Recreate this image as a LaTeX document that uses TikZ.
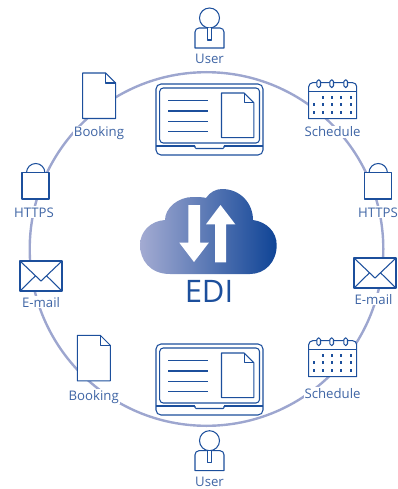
\documentclass[tikz,border=0pt]{standalone}
\usepackage{fontspec}
\setmainfont{Open Sans}
\usetikzlibrary{positioning}
\definecolor{iconblue}{HTML}{1C4F9C}
\definecolor{textblue}{HTML}{3F65A5}
\definecolor{ringblue}{HTML}{9DA6CF}
\definecolor{cloudleft}{HTML}{A3ABD2}
\definecolor{cloudright}{HTML}{0F4496}
\tikzset{
    ln/.style={draw=iconblue,line width=1.05pt,line join=round},
    lbl/.style={text=textblue,font=\fontsize{13.2}{15}\selectfont,fill=white,inner sep=1pt,anchor=base},
    usericon/.pic={
        \draw [ln,fill=white] (0,10) [rounded corners=4pt] -- (0,0) -- (29,0) [sharp corners] -- (29,20) -- (0,20) -- cycle;
        \draw [ln,fill=white] (14.5,-10) circle (10);
        \draw [ln,fill=white] (12.7,0) -- (12.7,12) -- (16.7,12) -- (16.7,0);
    },
    docicon/.pic={
        \draw [ln,fill=white] (0,0) -- (23,0) -- (33,10) -- (33,45.5) -- (0,45.5) -- cycle;
        \draw [ln] (23,0) -- (23,10) -- (33,10);
    },
    lockicon/.pic={
        \draw [ln,fill=white] (4.5,0) arc (180:360:9.2);
        \draw [ln,fill=white] (0,0) rectangle (27,26.3);
    },
    mailicon/.pic={
        \draw [ln,fill=white] (0,0) rectangle (42,30);
        \draw [ln] (0,0) -- (21,20) -- (42,0);
        \draw [ln] (0,30) -- (15.5,14.8);
        \draw [ln] (42,30) -- (26.5,14.8);
    },
    calicon/.pic={
        \draw [ln,fill=white] (0,9) [rounded corners=4pt] -- (0,0) -- (48,0) [sharp corners] -- (48,36) -- (0,36) -- cycle;
        \draw [ln] (0,9) -- (48,9);
        \foreach \x in {10,23,37}
            \draw [ln,fill=white,rounded corners=1.8pt] (\x-1.8,-3) rectangle (\x+1.8,5);
        \foreach \x in {14.3,23.3,32.3,42.3}
            \fill [iconblue] (\x-1.4,13.6) rectangle (\x+1.4,16.4);
        \foreach \y in {22,30}
            \foreach \x in {5.3,14.3,23.3,32.3,42.3}
                \fill [iconblue] (\x-1.4,\y-1.4) rectangle (\x+1.4,\y+1.4);
    },
    laptopicon/.pic={
        \draw [ln,fill=white,rounded corners=5pt] (0,0) rectangle (107,71);
        \draw [ln,rounded corners=3.5pt] (3.7,4) rectangle (103.5,59);
        \draw [ln] (0,62) -- (39,62);
        \draw [ln] (68,62) -- (107,62);
        \draw [ln,rounded corners=1pt] (39,62) -- (39,64.5) -- (68,64.5) -- (68,62);
        \foreach \y in {16.5,27,37.5,47.5}
            \draw [ln] (12,\y) -- (52,\y);
        \pic [scale=0.98] at (65.5,9) {docicon};
    }
}
\begin{document}
\begin{tikzpicture}[x=1pt,y=-1pt]
    \useasboundingbox (0,0) rectangle (397,489);
    \draw [draw=ringblue,line width=2.4pt] (206.5,249) circle (176.8);

    \pic at (156,84) {laptopicon};
    \pic at (156,344) {laptopicon};

    % ring of icons
    \pic at (195,28) {usericon};
    \pic at (195,450.7) {usericon};
    \pic at (308.7,82.7) {calicon};
    \pic at (308.7,340.7) {calicon};
    \pic at (82.7,73) {docicon};
    \pic at (77.3,335.3) {docicon};
    \pic at (22,172.7) {lockicon};
    \pic at (364.5,172.7) {lockicon};
    \pic at (20,261) {mailicon};
    \pic at (354,258) {mailicon};

    \node [lbl] (usertop) at (209.5,63.3) {User};
    \node [lbl] (userbot) at (209.5,486.5) {User};
    \node [lbl] (schedtop) at (332.5,137) {Schedule};
    \node [lbl] (schedbot) at (332.5,398.3) {Schedule};
    \node [lbl] (booktop) at (99,137) {Booking};
    \node [lbl] (bookbot) at (93.7,400) {Booking};
    \node [lbl] (httpsleft) at (34,217) {HTTPS};
    \node [lbl] (httpsright) at (378,217) {HTTPS};
    \node [lbl] (mailleft) at (41,307) {E-mail};
    \node [lbl] (mailright) at (373.5,304) {E-mail};

    % cloud
    \shade [left color=cloudleft,right color=cloudright]
        (170,274) .. controls (150,274) and (140,260) .. (140,245)
        .. controls (140,232) and (150,221) .. (165,220)
        .. controls (165,208) and (178,197) .. (193,197)
        .. controls (197,197) and (203,197) .. (206,198)
        .. controls (210,192) and (216,189) .. (222,189)
        .. controls (240,189) and (253,203) .. (253,220)
        .. controls (267,222) and (276.7,232) .. (276.7,245)
        .. controls (276.7,262) and (265,274) .. (250,274) -- cycle;
    \fill [white] (188.3,205) -- (200,205) -- (200,242.7) -- (208.8,242.7) -- (194,262)
        -- (179.3,242.7) -- (188.3,242.7) -- cycle;
    \fill [white] (215,262.3) -- (226,262.3) -- (226,224.3) -- (235.3,224.3) -- (220.5,205)
        -- (206,224.3) -- (215,224.3) -- cycle;
    \node [text=iconblue,font=\fontsize{31}{34}\selectfont,inner sep=0pt,anchor=base] (edi) at (209,302.7) {EDI};
\end{tikzpicture}
\end{document}
